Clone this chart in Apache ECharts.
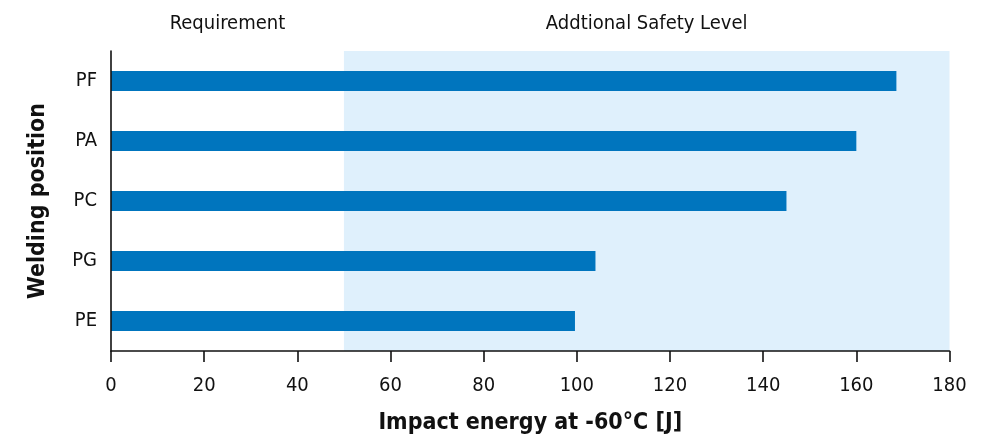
<!DOCTYPE html>
<html>
<head>
<meta charset="utf-8">
<script src="https://cdn.jsdelivr.net/npm/echarts@6/dist/echarts.min.js"></script>
<style>
html,body{margin:0;padding:0;background:#fff;}
#chart{width:987px;height:440px;}
</style>
</head>
<body>
<div id="chart"></div>
<script>
const categories = ['PF', 'PA', 'PC', 'PG', 'PE'];
const impactEnergy = [168.6, 160, 145, 104, 99.6];
const xTicks = { min: 0, max: 180, interval: 20 };
const zones = [
  { name: 'Requirement', from: 0, to: 50 },
  { name: 'Addtional Safety Level', from: 50, to: 180 }
];
const xTitle = 'Impact energy at -60°C [J]';
const yTitle = 'Welding position';

const FONT = '"Liberation Sans Narrow", "DejaVu Sans Condensed", "Liberation Sans", sans-serif';
const chart = echarts.init(document.getElementById('chart'));
chart.setOption({
  animation: false,
  backgroundColor: '#ffffff',
  textStyle: { fontFamily: FONT },
  grid: { left: 111, right: 37.5, top: 51, bottom: 89, containLabel: false },
  xAxis: {
    type: 'value',
    z: 5,
    min: xTicks.min, max: xTicks.max, interval: xTicks.interval,
    name: xTitle,
    nameLocation: 'middle',
    nameGap: 61,
    nameTextStyle: { fontFamily: FONT, fontSize: 23, fontWeight: 'bold', color: '#111' },
    axisLine: { show: true, lineStyle: { color: '#111', width: 1.6 } },
    axisTick: { show: true, length: 11, inside: false, lineStyle: { color: '#111', width: 1.6 } },
    axisLabel: { margin: 25, fontFamily: FONT, fontSize: 20, color: '#111' },
    splitLine: { show: false }
  },
  yAxis: {
    type: 'category',
    z: 5,
    data: categories,
    inverse: true,
    name: yTitle,
    nameLocation: 'middle',
    nameGap: 61,
    nameRotate: 90,
    nameTextStyle: { fontFamily: FONT, fontSize: 23, fontWeight: 'bold', color: '#111' },
    axisLine: { show: true, lineStyle: { color: '#111', width: 1.6 } },
    axisTick: { show: false },
    axisLabel: { margin: 14, fontFamily: FONT, fontSize: 20, color: '#111' },
    splitLine: { show: false }
  },
  series: [{
    type: 'bar',
    data: impactEnergy,
    barWidth: 20,
    itemStyle: { color: '#0075BE' },
    markArea: {
      silent: true,
      label: {
        show: true,
        position: 'top',
        distance: 17,
        fontFamily: FONT,
        fontSize: 20,
        color: '#111'
      },
      data: zones.map((z, i) => [
        { name: z.name, xAxis: z.from, itemStyle: { color: i === 0 ? 'rgba(0,0,0,0)' : '#DFF0FC' } },
        { xAxis: z.to }
      ])
    },
    z: 2
  }]
});
</script>
</body>
</html>
